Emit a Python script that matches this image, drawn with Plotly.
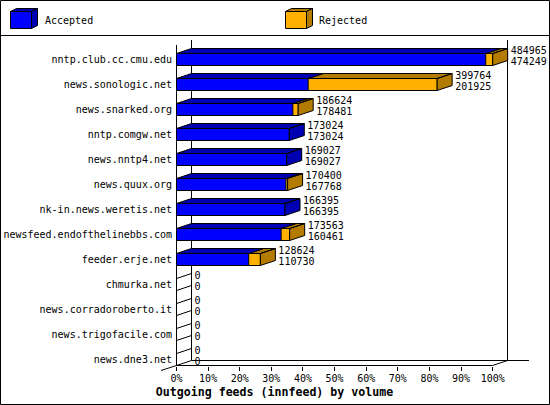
# Outgoing feeds chart, 3D look built from bars plus polygons worked out of the values
import plotly.graph_objects as go

feeds = ["nntp.club.cc.cmu.edu", "news.sonologic.net", "news.snarked.org", "nntp.comgw.net",
         "news.nntp4.net", "news.quux.org", "nk-in.news.weretis.net", "newsfeed.endofthelinebbs.com",
         "feeder.erje.net", "chmurka.net", "news.corradoroberto.it", "news.trigofacile.com",
         "news.dne3.net"]
rejected = [484965, 399764, 186624, 173024, 169027, 170400, 166395, 173563, 128624, 0, 0, 0, 0]
accepted = [474249, 201925, 178481, 173024, 169027, 167768, 166395, 160461, 110730, 0, 0, 0, 0]
pct_ticks = list(range(0, 101, 10))

BLUE, DARK_BLUE = "#0000ff", "#0000b3"
ORANGE, DARK_ORANGE = "#ffb000", "#b37b00"
FONT = "DejaVu Sans Mono"

# plot area in pixels, and how many pixels one axis unit takes
# the area runs to the page edge so the labels right of the 100% bar stay in range
LEFT, RIGHT, TOP, BOTTOM = 176, 550, 40, 366
X_UNIT, Y_UNIT = 3.162, 25
DX = 15 / X_UNIT
DY = 5 / Y_UNIT
HALF = 6 / Y_UNIT

top_value = max(rejected)
rej_pct = [v / top_value * 100 for v in rejected]
acc_pct = [v / top_value * 100 for v in accepted]
rows = list(range(len(feeds)))


def px(x):
    return (x - LEFT) / (RIGHT - LEFT)


def py(y):
    return (BOTTOM - y) / (BOTTOM - TOP)


def top_face(x0, x1, i):
    return ([x0, x0 + DX, x1 + DX, x1, x0, None],
            [i - HALF, i - HALF - DY, i - HALF - DY, i - HALF, i - HALF, None])


def side_face(x1, i):
    return ([x1, x1 + DX, x1 + DX, x1, x1, None],
            [i - HALF, i - HALF - DY, i + HALF - DY, i + HALF, i - HALF, None])


blue_x, blue_y, orange_x, orange_y, empty_x, empty_y = [], [], [], [], [], []
for i in rows:
    if rej_pct[i] == 0 and acc_pct[i] == 0:
        # empty row: only the two edges running back along the left wall
        empty_x += [0, DX, None, 0, DX, None]
        empty_y += [i - HALF, i - HALF - DY, None, i + HALF, i + HALF - DY, None]
        continue
    xs, ys = top_face(0, acc_pct[i], i)
    blue_x += xs
    blue_y += ys
    if rej_pct[i] > acc_pct[i]:
        xs, ys = top_face(acc_pct[i], rej_pct[i], i)
        orange_x += xs
        orange_y += ys
        xs, ys = side_face(rej_pct[i], i)
        orange_x += xs
        orange_y += ys
    else:
        xs, ys = side_face(acc_pct[i], i)
        blue_x += xs
        blue_y += ys

fig = go.Figure()
fig.add_bar(y=rows, x=rej_pct, orientation="h", width=2 * HALF, name="Rejected",
            marker=dict(color=ORANGE, line=dict(color="black", width=1)), hoverinfo="skip")
fig.add_bar(y=rows, x=acc_pct, orientation="h", width=2 * HALF, name="Accepted",
            marker=dict(color=BLUE, line=dict(color="black", width=1)), hoverinfo="skip")
fig.add_scatter(x=orange_x, y=orange_y, mode="lines", fill="toself", fillcolor=DARK_ORANGE,
                line=dict(color="black", width=1), hoverinfo="skip")
fig.add_scatter(x=blue_x, y=blue_y, mode="lines", fill="toself", fillcolor=DARK_BLUE,
                line=dict(color="black", width=1), hoverinfo="skip")
fig.add_scatter(x=empty_x, y=empty_y, mode="lines", line=dict(color="black", width=1), hoverinfo="skip")

# value labels, upper one on the back edge, lower one on the front
label_x = [max(r, a) + DX + 3 / X_UNIT for r, a in zip(rej_pct, acc_pct)]
fig.add_scatter(x=label_x, y=[i - 8.5 / Y_UNIT for i in rows], mode="text",
                text=[str(v) for v in rejected], textposition="middle right",
                textfont=dict(family=FONT, size=10, color="black"), cliponaxis=False, hoverinfo="skip")
fig.add_scatter(x=label_x, y=[i + 3 / Y_UNIT for i in rows], mode="text",
                text=[str(v) for v in accepted], textposition="middle right",
                textfont=dict(family=FONT, size=10, color="black"), cliponaxis=False, hoverinfo="skip")


def line(x0, y0, x1, y1):
    return dict(type="line", xref="paper", yref="paper", x0=px(x0), y0=py(y0), x1=px(x1), y1=py(y1),
                line=dict(color="black", width=1), layer="below")


def poly(points, color):
    path = "M" + " L".join(f"{px(x)},{py(y)}" for x, y in points) + " Z"
    return dict(type="path", xref="paper", yref="paper", path=path, fillcolor=color,
                line=dict(color="black", width=1), layer="above")


def cube(x, front, dark):
    return [poly([(x, 11.5), (x + 6, 8.5), (x + 27, 8.5), (x + 21, 11.5)], dark),
            poly([(x + 21, 11.5), (x + 27, 8.5), (x + 27, 25.5), (x + 21, 28.5)], dark),
            poly([(x, 11.5), (x + 21, 11.5), (x + 21, 28.5), (x, 28.5)], front)]


shapes = [
    line(0.5, 0.5, 549.5, 0.5), line(0.5, 404.5, 549.5, 404.5),
    line(0.5, 0.5, 0.5, 404.5), line(549.5, 0.5, 549.5, 404.5),
    line(0.5, 35.5, 549.5, 35.5),
    line(176.5, 45, 176.5, 365.5), line(191.5, 40, 191.5, 360.5), line(507.5, 40, 507.5, 360.5),
    line(191.5, 360.5, 529, 360.5), line(176.5, 365.5, 492.5, 365.5),
    line(161, 370.5, 176.5, 365.5), line(492.5, 365.5, 507.5, 360.5),
]
shapes += cube(10.5, BLUE, DARK_BLUE) + cube(285.5, ORANGE, DARK_ORANGE)

annotations = [
    dict(xref="paper", yref="paper", x=px(42.5), y=py(21), text="Accepted", showarrow=False,
         xanchor="left", yanchor="middle", font=dict(family=FONT, size=10, color="black")),
    dict(xref="paper", yref="paper", x=px(317), y=py(21), text="Rejected", showarrow=False,
         xanchor="left", yanchor="middle", font=dict(family=FONT, size=10, color="black")),
]

fig.update_layout(
    width=550, height=405, autosize=False, showlegend=False, barmode="overlay",
    paper_bgcolor="white", plot_bgcolor="white",
    margin=dict(l=LEFT, r=550 - RIGHT, t=TOP, b=405 - BOTTOM, pad=0),
    title=dict(text="<b>Outgoing feeds (innfeed) by volume</b>", x=274.5 / 550, xanchor="center",
               y=1 - 392 / 405, yanchor="middle", yref="container",
               font=dict(family=FONT, size=11.6, color="black")),
    shapes=shapes, annotations=annotations,
)
fig.update_xaxes(range=[(LEFT - 176.5) / X_UNIT, (RIGHT - 176.5) / X_UNIT], tickmode="array",
                 tickvals=pct_ticks, ticktext=[f"{t}%" for t in pct_ticks], ticks="outside",
                 ticklen=4, tickcolor="black", tickwidth=1, showgrid=False, zeroline=False,
                 showline=False, tickangle=0, automargin=False, ticklabelstandoff=-1,
                 tickfont=dict(family=FONT, size=10, color="black"))
fig.update_yaxes(range=[(BOTTOM - 59.5) / Y_UNIT, (TOP - 59.5) / Y_UNIT], tickmode="array",
                 tickvals=rows, ticktext=feeds, ticks="", showgrid=False, zeroline=False,
                 showline=False, automargin=False, ticklabelstandoff=3,
                 tickfont=dict(family=FONT, size=10, color="black"))

# the page's default body margin would push the fixed-size figure out of the window
fig.write_html("out.html", config={"displayModeBar": False},
               post_script="document.body.style.margin = '0';")
